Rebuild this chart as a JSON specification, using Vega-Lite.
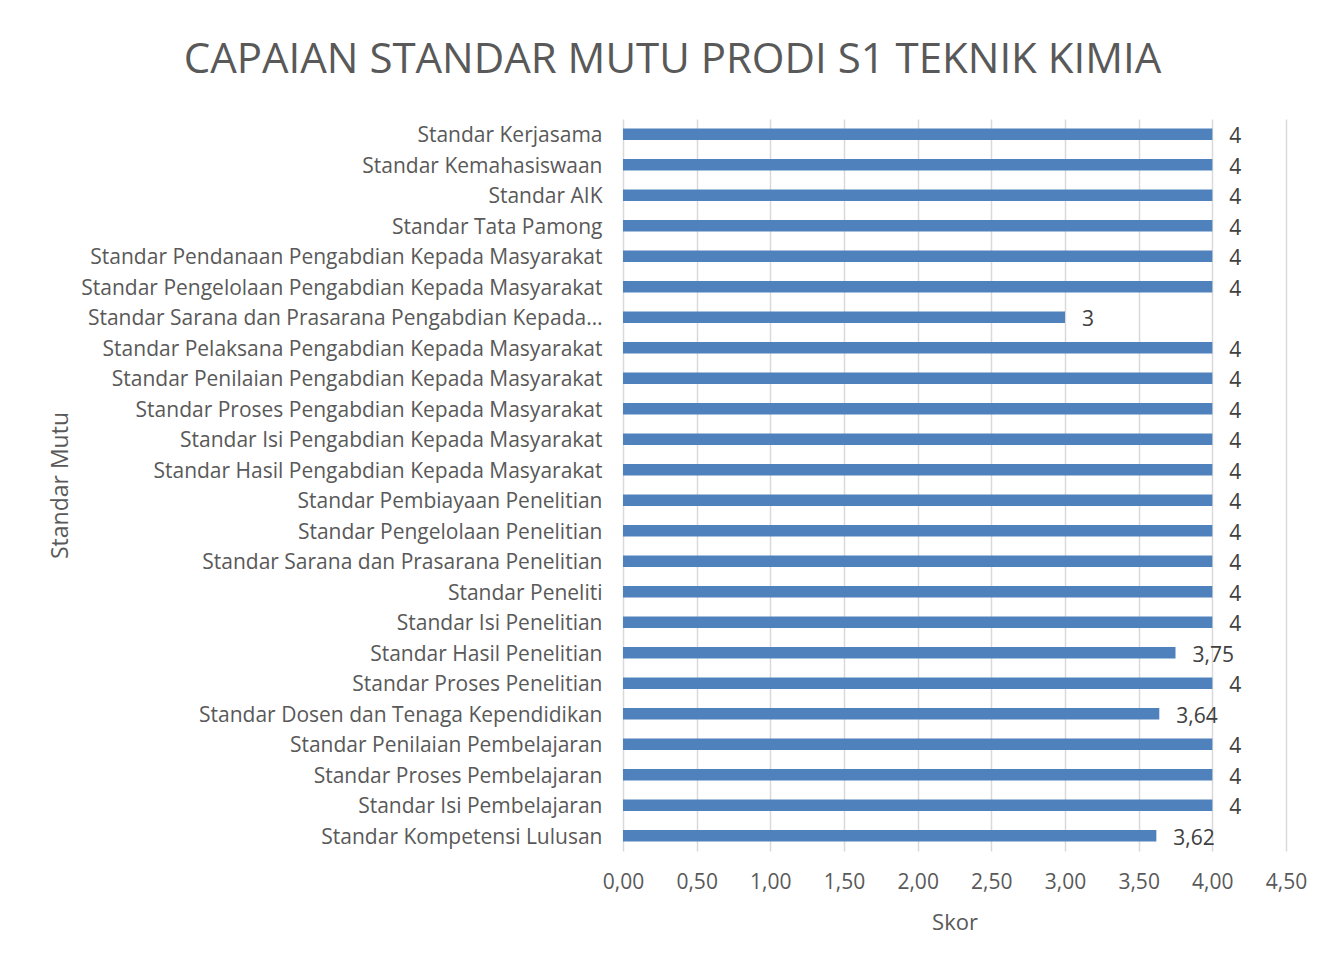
{
  "$schema": "https://vega.github.io/schema/vega-lite/v6.json",
  "width": 663,
  "height": 732,
  "autosize": "none",
  "padding": {"left": 623, "top": 119, "right": 55, "bottom": 114},
  "background": "white",
  "config": {
    "locale": {"number": {"decimal": ",", "thousands": ".", "grouping": [3], "currency": ["", ""]}},
    "font": "Open Sans",
    "view": {"stroke": null}
  },
  "title": {
    "text": "CAPAIAN STANDAR MUTU PRODI S1 TEKNIK KIMIA",
    "anchor": "middle",
    "frame": "group",
    "dx": -282,
    "offset": 37,
    "fontSize": 42,
    "font": "Open Sans",
    "fontWeight": "normal",
    "color": "#595959"
  },
  "data": {
    "values": [
      {"standar": "Standar Kerjasama", "skor": 4},
      {"standar": "Standar Kemahasiswaan", "skor": 4},
      {"standar": "Standar AIK", "skor": 4},
      {"standar": "Standar Tata Pamong", "skor": 4},
      {"standar": "Standar Pendanaan Pengabdian Kepada Masyarakat", "skor": 4},
      {"standar": "Standar Pengelolaan Pengabdian Kepada Masyarakat", "skor": 4},
      {"standar": "Standar Sarana dan Prasarana Pengabdian Kepada…", "skor": 3},
      {"standar": "Standar Pelaksana Pengabdian Kepada Masyarakat", "skor": 4},
      {"standar": "Standar Penilaian Pengabdian Kepada Masyarakat", "skor": 4},
      {"standar": "Standar Proses Pengabdian Kepada Masyarakat", "skor": 4},
      {"standar": "Standar Isi Pengabdian Kepada Masyarakat", "skor": 4},
      {"standar": "Standar Hasil Pengabdian Kepada Masyarakat", "skor": 4},
      {"standar": "Standar Pembiayaan Penelitian", "skor": 4},
      {"standar": "Standar Pengelolaan Penelitian", "skor": 4},
      {"standar": "Standar Sarana dan Prasarana Penelitian", "skor": 4},
      {"standar": "Standar Peneliti", "skor": 4},
      {"standar": "Standar Isi Penelitian", "skor": 4},
      {"standar": "Standar Hasil Penelitian", "skor": 3.75},
      {"standar": "Standar Proses Penelitian", "skor": 4},
      {"standar": "Standar Dosen dan Tenaga Kependidikan", "skor": 3.64},
      {"standar": "Standar Penilaian Pembelajaran", "skor": 4},
      {"standar": "Standar Proses Pembelajaran", "skor": 4},
      {"standar": "Standar Isi Pembelajaran", "skor": 4},
      {"standar": "Standar Kompetensi Lulusan", "skor": 3.62}
    ]
  },
  "encoding": {
    "y": {
      "field": "standar",
      "type": "nominal",
      "sort": null,
      "scale": {"paddingInner": 0.63, "paddingOuter": 0.315},
      "axis": {
        "title": "Standar Mutu",
        "titleFont": "Open Sans",
        "titleFontSize": 23,
        "titleFontWeight": "normal",
        "titleColor": "#595959",
        "titleX": -563,
        "titleY": 366,
        "titleAngle": -90,
        "titleBaseline": "middle",
        "titleAlign": "center",
        "labelFont": "Open Sans",
        "labelFontSize": 21,
        "labelColor": "#595959",
        "labelPadding": 21,
        "labelOffset": 2,
        "labelLimit": 700,
        "ticks": false,
        "domain": false,
        "grid": false
      }
    }
  },
  "layer": [
    {
      "mark": {"type": "bar", "color": "#4F81BD"},
      "encoding": {
        "x": {
          "field": "skor",
          "type": "quantitative",
          "scale": {"domain": [0, 4.5], "nice": false},
          "axis": {
            "title": "Skor",
            "titleFont": "Open Sans",
            "titleFontSize": 22,
            "titleFontWeight": "normal",
            "titleColor": "#595959",
            "titlePadding": 20,
            "values": [0, 0.5, 1, 1.5, 2, 2.5, 3, 3.5, 4, 4.5],
            "format": ".2f",
            "labelFont": "Open Sans",
            "labelFontSize": 21,
            "labelColor": "#595959",
            "labelPadding": 20,
            "labelFlush": false,
            "labelOverlap": false,
            "ticks": false,
            "domain": false,
            "grid": true,
            "gridColor": "#D9D9D9",
            "gridWidth": 1.5
          }
        }
      }
    },
    {
      "mark": {"type": "text", "align": "left", "baseline": "middle", "dx": 17, "dy": 3, "fontSize": 21, "font": "Open Sans", "color": "#404040"},
      "encoding": {
        "x": {"field": "skor", "type": "quantitative"},
        "text": {"field": "skor", "type": "quantitative", "format": ".3~g"}
      }
    }
  ]
}
